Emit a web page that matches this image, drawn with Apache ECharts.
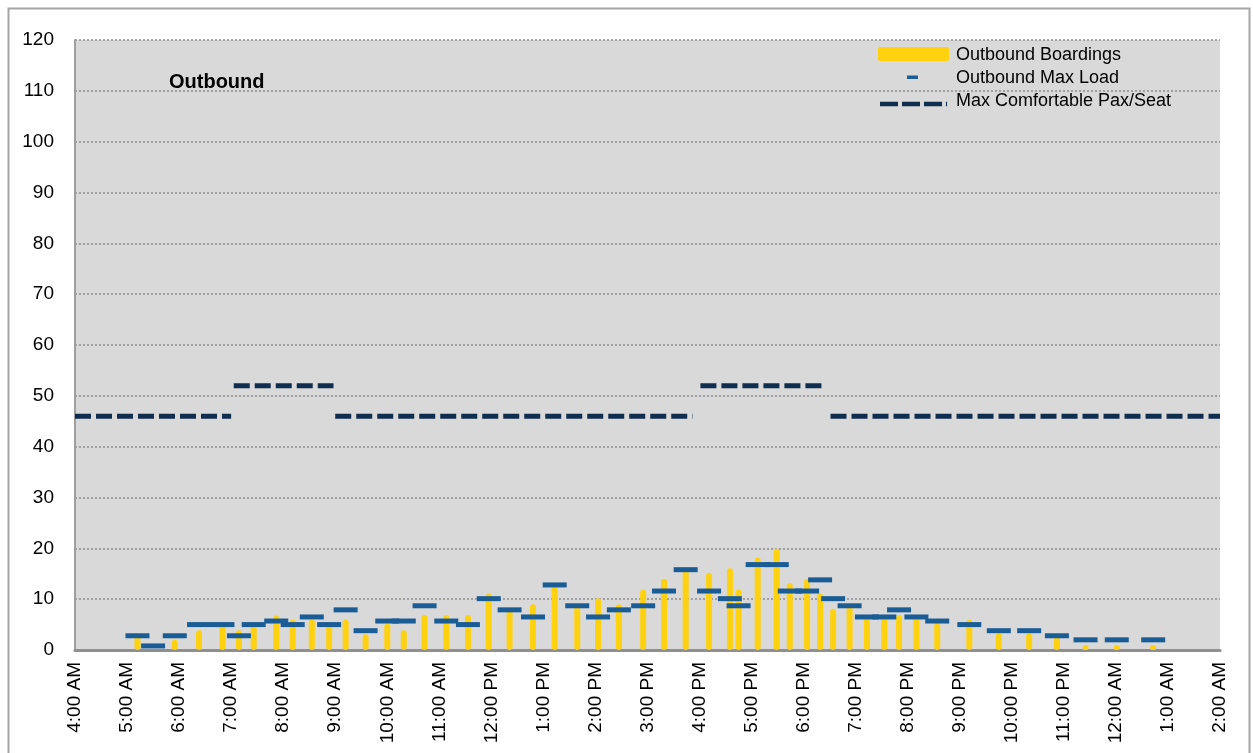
<!DOCTYPE html>
<html>
<head>
<meta charset="utf-8">
<script src="https://cdn.jsdelivr.net/npm/echarts@6.0.0/dist/echarts.min.js"></script>
<style>
  html, body { margin: 0; padding: 0; background: #fff; }
  #chart { width: 1253px; height: 753px; }
</style>
</head>
<body>
<div id="chart"></div>
<script>
// hour labels along the bottom, 4:00 AM through 2:00 AM
const hourLabels = ['4:00 AM', '5:00 AM', '6:00 AM', '7:00 AM', '8:00 AM', '9:00 AM', '10:00 AM',
  '11:00 AM', '12:00 PM', '1:00 PM', '2:00 PM', '3:00 PM', '4:00 PM', '5:00 PM', '6:00 PM',
  '7:00 PM', '8:00 PM', '9:00 PM', '10:00 PM', '11:00 PM', '12:00 AM', '1:00 AM', '2:00 AM'];

// trip start times (24h)
const tripTimes = ['5:12', '5:30', '5:55', '6:23', '6:50', '7:09', '7:26', '7:52', '8:11', '8:33',
  '8:53', '9:12', '9:35', '10:00', '10:19', '10:43', '11:08', '11:33', '11:57', '12:21',
  '12:48', '13:13', '13:39', '14:03', '14:27', '14:55', '15:19', '15:44', '16:11', '16:35',
  '16:45', '17:07', '17:29', '17:44', '18:04', '18:19', '18:34', '18:53', '19:13', '19:33',
  '19:50', '20:10', '20:34', '21:11', '21:45', '22:20', '22:52', '23:25', '0:01', '0:43'];

const boardings = [3.1, 0, 2, 3.9, 5.2, 3.9, 5.2, 6.8, 6.0, 6.0,
  5.2, 6.0, 3.1, 5.2, 3.9, 6.9, 6.9, 6.9, 11.1, 8.0,
  9.0, 13.2, 9.0, 10.2, 9.0, 11.9, 14.0, 16.1, 15.2, 16.1,
  11.9, 18.2, 19.9, 13.2, 14.0, 11.1, 8.1, 9.0, 6.9, 6.9,
  6.9, 6.3, 5.3, 6.0, 3.3, 3.3, 3.1, 1.0, 1.0, 1.0];

const maxLoad = [2.8, 0.8, 2.8, 5.0, 5.0, 2.8, 5.0, 5.7, 5.0, 6.5,
  5.0, 7.9, 3.8, 5.7, 5.7, 8.7, 5.7, 5.0, 10.1, 7.9,
  6.5, 12.8, 8.7, 6.5, 7.9, 8.7, 11.6, 15.8, 11.6, 10.1,
  8.7, 16.8, 16.8, 11.6, 11.6, 13.8, 10.1, 8.7, 6.5, 6.5,
  7.9, 6.5, 5.7, 5.0, 3.8, 3.8, 2.8, 2.0, 2.0, 2.0];

// max comfortable pax per seat, as steps
const comfortFrom = ['4:00', '7:03', '9:00', '16:01', '18:31'];
const comfortTo = ['7:00', '8:58', '15:52', '18:22', '2:00'];
const comfortLevel = [46, 52, 46, 52, 46];

const yTicks = [0, 120, 10];

// hours after 4:00 AM
function toHours(t) {
  const [h, m] = t.split(':').map(Number);
  let v = h + m / 60 - 4;
  if (v < 0) v += 24;
  return v;
}

const barData = tripTimes.map((t, i) => [toHours(t), boardings[i]]);
const loadData = tripTimes.map((t, i) => [toHours(t), maxLoad[i]]);
const comfortData = [];
comfortLevel.forEach((lvl, i) => {
  const a = toHours(comfortFrom[i]), b = toHours(comfortTo[i]);
  if (i > 0) comfortData.push([a - 0.01, '-']);
  comfortData.push([a, lvl], [b, lvl]);
});

const FONT = '"Liberation Sans", Arial, sans-serif';
const YELLOW = '#FFD10F';
const BLUE = '#1a5c96';
const NAVY = '#0f2d4e';

const chart = echarts.init(document.getElementById('chart'));
chart.setOption({
  animation: false,
  backgroundColor: '#fff',
  textStyle: { fontFamily: FONT },
  title: {
    text: 'Outbound',
    left: 164,
    top: 67,
    textStyle: { fontFamily: FONT, fontSize: 20, fontWeight: 'bold', color: '#000' }
  },
  grid: {
    left: 75, right: 33, top: 40, bottom: 103,
    show: true, backgroundColor: '#d9d9d9', borderWidth: 0
  },
  xAxis: {
    type: 'value',
    min: 0, max: 22, interval: 1,
    axisLine: { show: true, lineStyle: { color: '#8f8f8f', width: 3 } },
    axisTick: { show: false },
    splitLine: { show: false },
    axisLabel: {
      rotate: 90, margin: 12, fontSize: 19, color: '#000', fontFamily: FONT,
      showMinLabel: true, showMaxLabel: true,
      formatter: v => hourLabels[Math.round(v)]
    }
  },
  yAxis: {
    type: 'value',
    min: yTicks[0], max: yTicks[1], interval: yTicks[2],
    axisLine: { show: true, lineStyle: { color: '#a0a0a0', width: 2 } },
    axisTick: { show: false },
    splitLine: { show: true, lineStyle: { color: '#8c8c8c', width: 1.5, type: [2, 2] } },
    axisLabel: { fontSize: 19, color: '#000', margin: 21, fontFamily: FONT }
  },
  series: [
    {
      name: 'Outbound Boardings',
      type: 'bar',
      data: barData,
      barWidth: 6,
      itemStyle: { color: YELLOW, borderRadius: 3 },
      z: 2
    },
    {
      name: 'Outbound Max Load',
      type: 'scatter',
      data: loadData,
      symbol: 'rect',
      symbolSize: [24, 5],
      itemStyle: { color: BLUE, opacity: 1 },
      z: 3
    },
    {
      name: 'Max Comfortable Pax/Seat',
      type: 'line',
      data: comfortData,
      showSymbol: false,
      symbol: 'none',
      connectNulls: false,
      lineStyle: { color: NAVY, width: 5, type: [16, 5], cap: 'butt' },
      z: 4
    }
  ],
  graphic: [
    {
      type: 'rect', left: 6, top: 6, silent: true,
      shape: { width: 1241, height: 800 },
      style: { fill: 'none', stroke: '#a6a6a6', lineWidth: 2 }
    },
    // legend
    { type: 'rect', shape: { x: 878, y: 47, width: 71, height: 14, r: 2 }, style: { fill: YELLOW } },
    { type: 'text', x: 956, y: 55, style: { text: 'Outbound Boardings', font: '18px ' + FONT, fill: '#000', verticalAlign: 'middle' } },
    { type: 'rect', shape: { x: 907, y: 75.5, width: 11, height: 3.5 }, style: { fill: BLUE } },
    { type: 'text', x: 956, y: 78, style: { text: 'Outbound Max Load', font: '18px ' + FONT, fill: '#000', verticalAlign: 'middle' } },
    { type: 'line', shape: { x1: 880, y1: 104, x2: 947, y2: 104 }, style: { stroke: NAVY, lineWidth: 4.5, lineDash: [18, 4] } },
    { type: 'text', x: 956, y: 101.5, style: { text: 'Max Comfortable Pax/Seat', font: '18px ' + FONT, fill: '#000', verticalAlign: 'middle' } }
  ]
});
</script>
</body>
</html>
